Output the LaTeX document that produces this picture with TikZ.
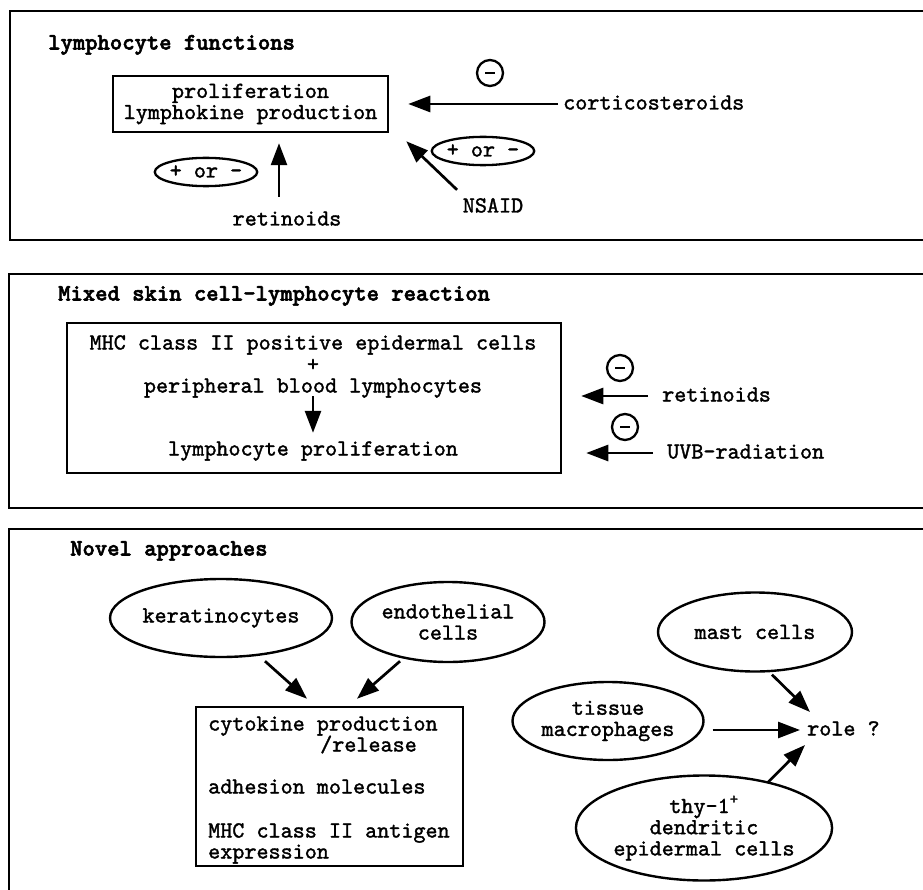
\documentclass[tikz,border=0pt]{standalone}
\usepackage{fontspec}
\setmonofont{lmmono10-regular.otf}[FakeBold=1.5, BoldFont=lmmonolt10-bold.otf, BoldFeatures={FakeBold=2.4}]
\usetikzlibrary{shapes.geometric,arrows.meta}
\begin{document}
\begin{tikzpicture}[x=1pt,y=-1pt,
  every node/.style={font=\ttfamily\fontsize{23}{21.2}\selectfont, inner sep=0pt},
  lbl/.style={text height=15.5pt, text depth=4.5pt},
  heading/.style={lbl, anchor=west, font=\ttfamily\bfseries\fontsize{23.5}{21.2}\selectfont},
  frame/.style={line width=2.7pt},
  boxed/.style={draw, line width=2.5pt, align=center},
  oval/.style={draw, ellipse, line width=2.4pt, align=center, inner sep=0pt},
  sign/.style={draw, ellipse, line width=2.3pt, minimum width=102pt, minimum height=27pt, lbl},
  inhib/.style={draw, circle, line width=2.3pt, minimum size=26pt,
    path picture={\draw[line width=2.4pt] (path picture bounding box.center) ++(-5,0) -- ++(10,0);}},
  arr/.style={line width=2.7pt, -{Triangle[length=22pt,width=16pt]}}
]
\useasboundingbox (0,0) rectangle (923,890);

% --- three panels (their right edges run off the page) ---
\draw[frame] (930,11) -- (10,11) -- (10,240) -- (930,240);
\draw[frame] (930,274) -- (9,274) -- (9,508) -- (930,508);
\draw[frame] (930,529) -- (9,529) -- (9,900);

% --- panel 1: lymphocyte functions ---
\node[heading] (h1) at (48,44) {lymphocyte functions};
\node[boxed, minimum width=275pt, minimum height=56pt] (box1) at (250.5,104) {proliferation\\lymphokine production};
\node[lbl, anchor=west] (cort) at (563,104) {corticosteroids};
\node[inhib] (m1) at (490,73) {};
\draw[arr, shorten <=5pt, shorten >=19pt] (cort.west) -- (box1.east);
\node[sign] (pm1) at (206,172) {+ or -};
\node[sign] (pm2) at (483,151) {+ or -};
\node[lbl] (ret1) at (287,220) {retinoids};
\draw[arr] ([shift={(-8,-13)}]ret1.north) -- ([shift={(28.5,10)}]box1.south);
\node[lbl] (nsaid) at (493,207) {NSAID};
\draw[arr] ([shift={(-36,-7)}]nsaid.north) -- ([shift={(17,8)}]box1.south east);

% --- panel 2: mixed skin cell-lymphocyte reaction ---
\node[heading] (h2) at (58,295) {Mixed skin cell-lymphocyte reaction};
\node[boxed, minimum width=494pt, minimum height=150pt] (box2) at (314,398) {};
\node[lbl] (c1) at (313,344) {MHC class II positive epidermal cells};
\node (plus) at (313,365) {+};
\node[lbl] (c2) at (313,387) {peripheral blood lymphocytes};
\node[lbl] (c3) at (313,450) {lymphocyte proliferation};
\draw[arr, shorten <=-1pt, shorten >=7pt] (c2.south) -- (c3.north);
\node[inhib] (m2) at (620,368) {};
\node[lbl, anchor=west] (ret2) at (662,396) {retinoids};
\draw[arr, shorten <=14pt, shorten >=19pt] (ret2.west) -- (box2.east |- ret2.west);
\node[inhib] (m3) at (625,427) {};
\node[lbl, anchor=west] (uvb) at (667,453) {UVB-radiation};
\draw[arr, shorten <=14pt, shorten >=24pt] (uvb.west) -- (box2.east |- uvb.west);

% --- panel 3: novel approaches ---
\node[heading] (h3) at (70,550) {Novel approaches};
\node[oval, minimum width=195pt, minimum height=78pt] (ker) at (221,618) {keratinocytes};
\node[oval, minimum width=193pt, minimum height=80pt] (endo) at (448,622) {endothelial\\cells};
\node[boxed, minimum width=267pt, minimum height=159pt] (box3) at (329.5,786.5) {};
\node[lbl, anchor=west] (k1) at (208,725) {cytokine production};
\node[lbl, anchor=west] (k2) at (320,746) {/release};
\node[lbl, anchor=west] (k3) at (208,788) {adhesion molecules};
\node[lbl, anchor=west] (k4) at (208,832) {MHC class II antigen};
\node[lbl, anchor=west] (k5) at (208,853) {expression};
\draw[arr] ([shift={(44,3)}]ker.south) -- ([shift={(-22.5,-7)}]box3.north);
\draw[arr] ([shift={(-48,-2)}]endo.south) -- ([shift={(27.5,-7)}]box3.north);

\node[oval, minimum width=194pt, minimum height=79pt] (mast) at (755,632) {mast cells};
\node[oval, minimum width=191pt, minimum height=78pt] (tissue) at (608,721) {tissue\\macrophages};
\node[oval, minimum width=215pt, minimum height=105pt] (thy) at (704,828) {thy-1\textsuperscript{+}\\dendritic\\epidermal cells};
\node[lbl, anchor=west] (role) at (807,730) {role ?};
\draw[arr, shorten <=8pt, shorten >=7pt] (tissue.east |- role.west) -- (role.west);
\draw[arr] ([shift={(17,2)}]mast.south) -- ([shift={(3,-18)}]role.west);
\draw[arr] ([shift={(64,8)}]thy.north) -- ([shift={(-2,15)}]role.west);
\end{tikzpicture}
\end{document}
